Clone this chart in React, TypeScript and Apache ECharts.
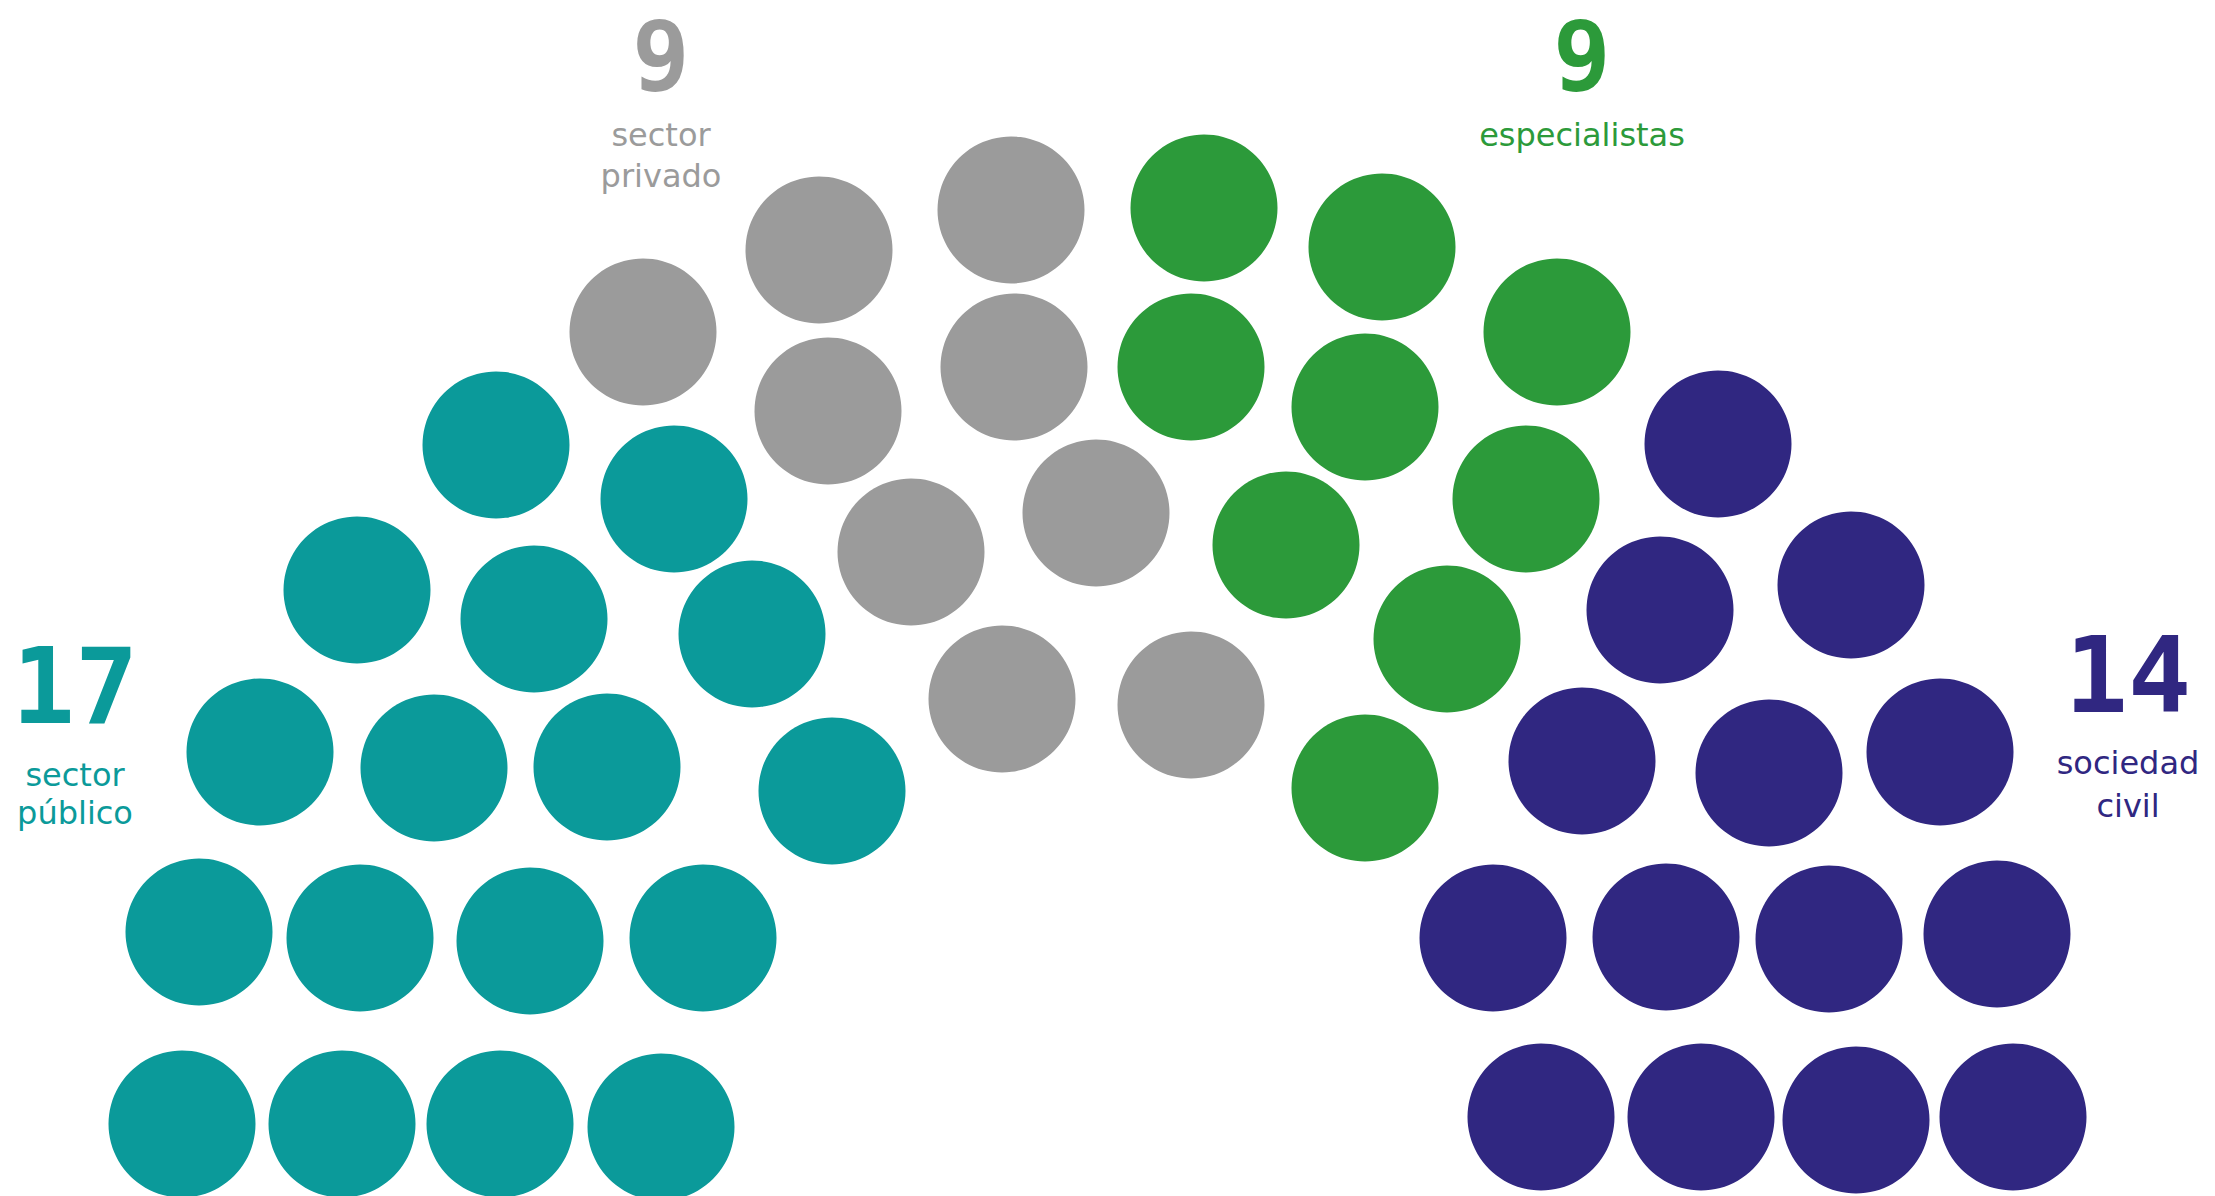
import React, { useEffect, useRef } from "react";
import * as echarts from "echarts";

const W = 2215;
const H = 1196;

// Seat positions (in chart units, x to the right, y downward)
const publicoX = [496, 357, 674, 534, 752, 260, 434, 607, 832, 199, 360, 530, 703, 182, 342, 500, 661];
const publicoY = [445, 590, 499, 619, 634, 752, 768, 767, 791, 932, 938, 941, 938, 1124, 1124, 1124, 1127];

const privadoX = [643, 819, 1011, 828, 1014, 911, 1096, 1002, 1191];
const privadoY = [332, 250, 210, 411, 367, 552, 513, 699, 705];

const especialistasX = [1204, 1382, 1557, 1191, 1365, 1526, 1286, 1447, 1365];
const especialistasY = [208, 247, 332, 367, 407, 499, 545, 639, 788];

const civilX = [1718, 1851, 1660, 1582, 1769, 1940, 1493, 1666, 1829, 1997, 1541, 1701, 1856, 2013];
const civilY = [444, 585, 610, 761, 773, 752, 938, 937, 939, 934, 1117, 1117, 1120, 1117];

const groupNames = ["sector público", "sector privado", "especialistas", "sociedad civil"];
const groupCounts = ["17", "9", "9", "14"];
const groupLabelLines = [["sector", "público"], ["sector", "privado"], ["especialistas"], ["sociedad", "civil"]];
const groupColors = ["#0b9a9a", "#9b9b9b", "#2c9a3a", "#302781"];

const zip = (xs: number[], ys: number[]) => xs.map((x, i) => [x, ys[i]]);

export default function App() {
  const ref = useRef<HTMLDivElement>(null);
  useEffect(() => {
    if (!ref.current) return;
    const chart = echarts.init(ref.current, null, { renderer: "svg" });
    const seatData = [
      zip(publicoX, publicoY),
      zip(privadoX, privadoY),
      zip(especialistasX, especialistasY),
      zip(civilX, civilY),
    ];
    // label layout: number center, number size and label line centers
    const labelPos = [
      { x: 75, numY: 687, numSize: 105, lines: [775, 813] },
      { x: 661, numY: 57, numSize: 96, lines: [135, 176] },
      { x: 1582, numY: 57, numSize: 96, lines: [135] },
      { x: 2128, numY: 676, numSize: 105, lines: [763, 806] },
    ];
    const graphics: any[] = [];
    labelPos.forEach((p, gi) => {
      graphics.push({
        type: "text",
        x: p.x,
        y: p.numY,
        style: {
          text: groupCounts[gi],
          fill: groupColors[gi],
          font: `bold ${p.numSize}px 'DejaVu Sans Mono'`,
          textAlign: "center",
          textVerticalAlign: "middle",
        },
      });
      groupLabelLines[gi].forEach((line, li) => {
        graphics.push({
          type: "text",
          x: p.x,
          y: p.lines[li],
          style: {
            text: line,
            fill: groupColors[gi],
            font: "32px 'DejaVu Sans'",
            textAlign: "center",
            textVerticalAlign: "middle",
          },
        });
      });
    });
    chart.setOption({
      animation: false,
      grid: { left: 0, right: 0, top: 0, bottom: 0 },
      xAxis: { type: "value", min: 0, max: W, show: false },
      yAxis: { type: "value", min: 0, max: H, inverse: true, show: false },
      series: seatData.map((d, gi) => ({
        type: "scatter",
        name: groupNames[gi],
        data: d,
        symbol: "circle",
        symbolSize: 147,
        itemStyle: { color: groupColors[gi], opacity: 1 },
        silent: true,
      })),
      graphic: graphics,
    });
    return () => chart.dispose();
  }, []);
  return (
    <div
      ref={ref}
      style={{ position: "fixed", left: 0, top: 0, width: W, height: H, background: "#ffffff" }}
    />
  );
}
